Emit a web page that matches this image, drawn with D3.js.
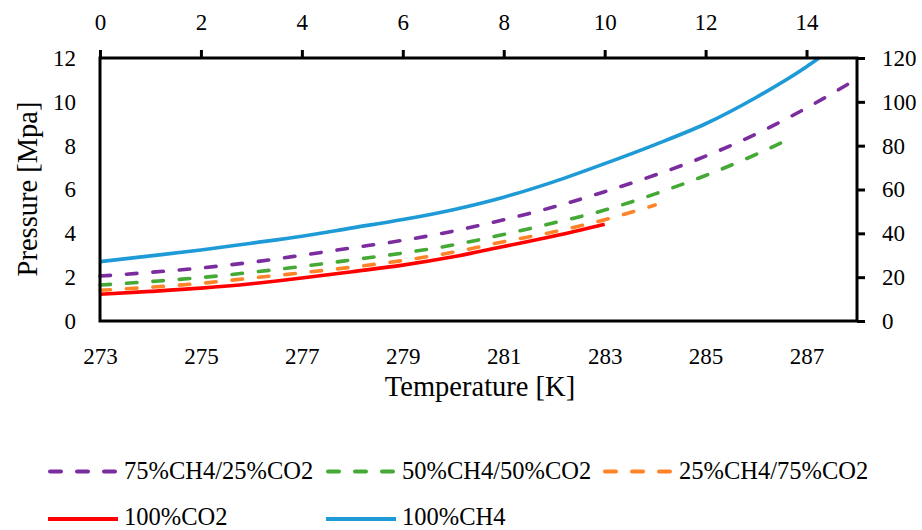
<!DOCTYPE html>
<html><head><meta charset="utf-8">
<script src="https://cdn.jsdelivr.net/npm/d3@7"></script>
<style>
html,body{margin:0;padding:0;background:#fff;}
svg{display:block;font-family:"Liberation Serif","Times New Roman",serif;}
</style></head>
<body><svg id="c" width="922" height="530"></svg>
<script>
// Temperatures [K] and pressures [MPa]
const tCH4   = [273,274,275,276,277,278,279,280,281,282,283,284,285,286,287,287.25];
const pCH4   = [2.71,2.97,3.24,3.55,3.87,4.25,4.63,5.08,5.65,6.36,7.18,8.05,9.00,10.20,11.60,12.0];
const t75    = [273,274,275,276,277,278,279,280,281,282,283,284,285,286,287,288];
const p75    = [2.05,2.22,2.42,2.68,3.00,3.34,3.68,4.10,4.62,5.21,5.90,6.66,7.52,8.53,9.72,11.05];
const t50    = [273,274,275,276,277,278,279,280,281,282,283,284,285,286,286.73];
const p50    = [1.64,1.80,1.98,2.22,2.49,2.79,3.10,3.47,3.95,4.48,5.06,5.80,6.64,7.60,8.38];
const t25    = [273,274,275,276,277,278,279,280,281,282,283,284];
const p25    = [1.40,1.54,1.72,1.96,2.20,2.46,2.76,3.14,3.62,4.07,4.62,5.29];
const tCO2   = [273,274,275,276,277,278,279,280,281,282,283];
const pCO2   = [1.22,1.35,1.50,1.70,1.96,2.25,2.55,2.93,3.40,3.88,4.42];

const bottomTicks = [273,275,277,279,281,283,285,287];
const topTicks    = [0,2,4,6,8,10,12,14];
const leftTicks   = [0,2,4,6,8,10,12];
const rightTicks  = [0,20,40,60,80,100,120];

const seriesNames  = ["75%CH4/25%CO2","50%CH4/50%CO2","25%CH4/75%CO2","100%CO2","100%CH4"];
const seriesColors = ["#7B2C9E","#45A935","#FF8329","#FF0000","#1E9BD7"];
const seriesDashed = [true,true,true,false,false];
const seriesT = [t75,t50,t25,tCO2,tCH4];
const seriesP = [p75,p50,p25,pCO2,pCH4];

const L=100,R=857,T=58,B=321;
const svg = d3.select("#c");
const x  = d3.scaleLinear().domain([273,288]).range([L,R]);
const xt = d3.scaleLinear().domain([0,15]).range([L,R]);
const y  = d3.scaleLinear().domain([0,12]).range([B,T]);
const yr = d3.scaleLinear().domain([0,120]).range([B,T]);

const tickFont = 23;

// Curves
const line = d3.line().x(d=>x(d[0])).y(d=>y(d[1])).curve(d3.curveMonotoneX);
const plot = svg.append("g");
[4,3,2,1,0].forEach(i=>{
  const pts = seriesT[i].map((t,k)=>[t,seriesP[i][k]]);
  plot.append("path").attr("d",line(pts)).attr("fill","none")
    .attr("stroke",seriesColors[i]).attr("stroke-width",3.6)
    .attr("stroke-linecap",seriesDashed[i]?"round":"butt")
    .attr("stroke-dasharray",seriesDashed[i]?"10.5,16":null);
});

// Axes
const axTop = svg.append("g").attr("transform",`translate(0,${T})`)
  .call(d3.axisTop(xt).tickValues(topTicks).tickSize(8).tickFormat(d3.format("d")));
const axRight = svg.append("g").attr("transform",`translate(${R},0)`)
  .call(d3.axisRight(yr).tickValues(rightTicks).tickSize(8).tickFormat(d3.format("d")));
const axLeft = svg.append("g").attr("transform",`translate(${L},0)`)
  .call(d3.axisLeft(y).tickValues(leftTicks).tickSize(0).tickPadding(24).tickFormat(d3.format("d")));
const axBottom = svg.append("g").attr("transform",`translate(0,${B})`)
  .call(d3.axisBottom(x).tickValues(bottomTicks).tickSize(0).tickPadding(27).tickFormat(d3.format("d")));

[axTop,axRight,axLeft,axBottom].forEach(g=>{
  g.select(".domain").remove();
  g.selectAll("line").attr("stroke","#000").attr("stroke-width",3);
  g.selectAll("text").attr("font-family","Liberation Serif, serif").attr("font-size",tickFont).attr("fill","#000");
});
axTop.selectAll("text").attr("y",-28);
axRight.selectAll("text").attr("x",25);

// Frame
svg.append("rect").attr("x",L).attr("y",T).attr("width",R-L).attr("height",B-T)
  .attr("fill","none").attr("stroke","#000").attr("stroke-width",3);

// Titles
svg.append("text").attr("x",480).attr("y",396).attr("text-anchor","middle")
  .attr("font-size",28.5).text("Temperature [K]");
svg.append("text").attr("transform","translate(37,189) rotate(-90)").attr("text-anchor","middle")
  .attr("font-size",28.5).text("Pressure [Mpa]");

// Legend
const legPos = [[48,471.5,479],[326,471.5,479],[603,471.5,479],[48,519,524.5],[326,519,524.5]];
seriesNames.forEach((n,i)=>{
  const [lx,ly,ty]=legPos[i];
  const g = svg.append("g");
  g.append("line").attr("x1",lx+(seriesDashed[i]?2:0)).attr("x2",lx+70-(seriesDashed[i]?2:0)).attr("y1",ly).attr("y2",ly)
    .attr("stroke",seriesColors[i]).attr("stroke-width",4)
    .attr("stroke-linecap",seriesDashed[i]?"round":"butt")
    .attr("stroke-dasharray",seriesDashed[i]?"11,16":null);
  g.append("text").attr("x",lx+76).attr("y",ty).attr("font-size",24.5).text(n);
});
</script></body></html>
